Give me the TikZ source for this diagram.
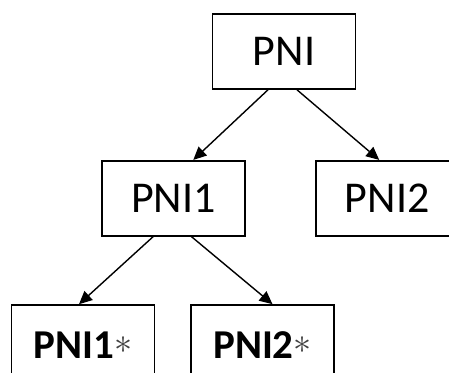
\documentclass[tikz,border=0pt]{standalone}
\usepackage{fontspec}
\setmainfont{Carlito}
\usetikzlibrary{arrows.meta}
\tikzset{
  box/.style={draw, line width=1.6pt, minimum width=143pt, inner sep=0pt,
    font=\fontsize{44}{44}\selectfont, text height=28pt, text depth=0pt},
  topbox/.style={box, minimum height=75pt},
  midbox/.style={box, minimum height=75pt},
  leafbox/.style={box, minimum height=80pt, font=\fontsize{41}{41}\selectfont\bfseries, text height=27pt},
  link/.style={line width=1.4pt, -{Triangle[length=13pt,width=12pt]}},
}
\newcommand{\leafstar}{\raisebox{5pt}{\scalebox{1.45}{\color{black!75}$\ast$}}}
\begin{document}
\begin{tikzpicture}[x=1pt,y=-1pt]
  \clip (0,0) rectangle (449,372);
  \node[topbox] (pni)  at (284,51.5) {PNI};
  \node[midbox] (pnia) at (173.3,198.2) {PNI1};
  \node[midbox] (pnib) at (387.2,198.2) {PNI2};
  \node[leafbox] (leafa) at (83,345) {PNI1\leafstar};
  \node[leafbox] (leafb) at (262.5,345) {PNI2\leafstar};
  \draw[link] ([xshift=-16pt]pni.south) -- ([xshift=20pt]pnia.north);
  \draw[link] ([xshift=13pt]pni.south) -- ([xshift=-8pt]pnib.north);
  \draw[link] ([xshift=-20pt]pnia.south) -- ([xshift=-4pt]leafa.north);
  \draw[link] ([xshift=18pt]pnia.south) -- ([xshift=10pt]leafb.north);
\end{tikzpicture}
\end{document}
